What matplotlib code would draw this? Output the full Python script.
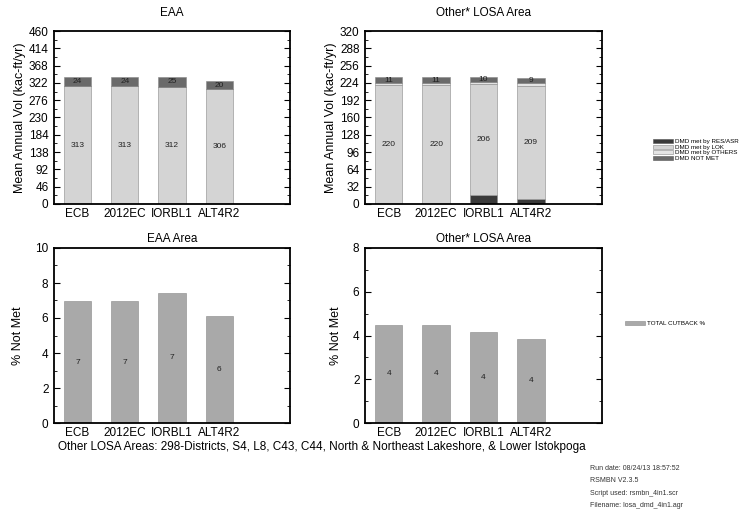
import numpy as np
import matplotlib.pyplot as plt
from matplotlib.patches import Patch
from matplotlib.ticker import MultipleLocator, AutoMinorLocator

plt.rcParams['font.family'] = ['Liberation Sans', 'DejaVu Sans']

alts = ['ECB', '2012EC', 'IORBL1', 'ALT4R2']

# demand volumes (kac-ft/yr) by source
eaa_res = [0, 0, 0, 0]
eaa_lok = [313, 313, 312, 306]
eaa_oth = [0, 0, 0, 0]
eaa_notmet = [24, 24, 25, 20]

losa_res = [0, 0, 16, 10]
losa_lok = [220, 220, 206, 209]
losa_oth = [4, 4, 4, 5]
losa_notmet = [10.6, 10.6, 9.8, 9.0]

# percent of demand not met
eaa_pct = [6.95, 6.95, 7.45, 6.1]
losa_pct = [4.5, 4.5, 4.15, 3.85]

c_res = '#3a3a3a'
c_lok = '#d4d4d4'
c_oth = '#e4e4e4'
c_notmet = '#6a6a6a'
c_cut = '#a9a9a9'

W, H = 739, 511
fig = plt.figure(figsize=(W / 100, H / 100), dpi=100)


def box(x0, y0, x1, y1):
    return [x0 / W, 1 - y1 / H, (x1 - x0) / W, (y1 - y0) / H]


def style(ax, ymax, step):
    ax.set_xlim(0.5, 5.5)
    ax.set_ylim(0, ymax)
    ax.yaxis.set_major_locator(MultipleLocator(step))
    ax.yaxis.set_minor_locator(AutoMinorLocator(2))
    ax.set_xticks(range(1, 5))
    ax.set_xticklabels(alts, fontsize=8.5)
    ax.tick_params(axis='x', length=0, pad=3)
    ax.tick_params(axis='y', which='both', direction='in', right=True,
                   labelsize=8.5, pad=4)
    ax.tick_params(axis='y', which='major', length=4)
    ax.tick_params(axis='y', which='minor', length=2)
    for s in ax.spines.values():
        s.set_linewidth(1.3)


def stacked(ax, res, lok, oth, notmet):
    x = np.arange(1, 5)
    bottom = np.zeros(4)
    for vals, col, lab in [(res, c_res, False), (lok, c_lok, True),
                           (oth, c_oth, False), (notmet, c_notmet, True)]:
        vals = np.array(vals, dtype=float)
        ax.bar(x, vals, 0.58, bottom=bottom, color=col, edgecolor='#888888',
               linewidth=0.4)
        if lab:
            for xi, b, v in zip(x, bottom, vals):
                ax.text(xi, b + v / 2, f'{v:.0f}', ha='center', va='center',
                        fontsize=6, color='#222222')
        bottom += vals


def pct_bars(ax, pct):
    x = np.arange(1, 5)
    ax.bar(x, pct, 0.58, color=c_cut, edgecolor='#888888', linewidth=0.4)
    for xi, v in zip(x, pct):
        ax.text(xi, v / 2, f'{v:.0f}', ha='center', va='center',
                fontsize=6, color='#222222')


ax1 = fig.add_axes(box(54, 31, 290, 204))
stacked(ax1, eaa_res, eaa_lok, eaa_oth, eaa_notmet)
style(ax1, 460, 46)
ax1.set_title('EAA', fontsize=8.5, pad=11)
ax1.set_ylabel('Mean Annual Vol (kac-ft/yr)', fontsize=9, labelpad=2)

ax2 = fig.add_axes(box(365, 31, 602, 204))
stacked(ax2, losa_res, losa_lok, losa_oth, losa_notmet)
style(ax2, 320, 32)
ax2.set_title('Other* LOSA Area', fontsize=8.5, pad=11)
ax2.set_ylabel('Mean Annual Vol (kac-ft/yr)', fontsize=9, labelpad=2)

ax3 = fig.add_axes(box(54, 248, 290, 423))
pct_bars(ax3, eaa_pct)
style(ax3, 10, 2)
ax3.set_title('EAA Area', fontsize=8.5, pad=4)
ax3.set_ylabel('% Not Met', fontsize=9, labelpad=8)

ax4 = fig.add_axes(box(365, 248, 602, 423))
pct_bars(ax4, losa_pct)
style(ax4, 8, 2)
ax4.set_title('Other* LOSA Area', fontsize=8.5, pad=4)
ax4.set_ylabel('% Not Met', fontsize=9, labelpad=8)

handles = [Patch(facecolor=c_res, edgecolor='#555555', lw=0.4),
           Patch(facecolor=c_lok, edgecolor='#888888', lw=0.4),
           Patch(facecolor=c_oth, edgecolor='#888888', lw=0.4),
           Patch(facecolor=c_notmet, edgecolor='#555555', lw=0.4)]
labels = ['DMD met by RES/ASR', 'DMD met by LOK', 'DMD met by OTHERS', 'DMD NOT MET']
fig.legend(handles, labels, loc='upper left', bbox_to_anchor=(650 / W, 1 - 136 / H),
           fontsize=4.5, frameon=False, handlelength=3.2, handleheight=0.6,
           labelspacing=0.05, handletextpad=0.3, borderpad=0)

fig.legend([Patch(facecolor=c_cut, edgecolor='#888888', lw=0.4)], ['TOTAL CUTBACK %'],
           loc='upper left', bbox_to_anchor=(622 / W, 1 - 318 / H),
           fontsize=4.5, frameon=False, handlelength=3.2, handleheight=0.6,
           handletextpad=0.3, borderpad=0)

fig.text(58 / W, 1 - 447 / H,
         'Other LOSA Areas: 298-Districts, S4, L8, C43, C44, North & Northeast '
         'Lakeshore, & Lower Istokpoga', fontsize=8.5, va='center')

info = ['Run date: 08/24/13 18:57:52', 'RSMBN V2.3.5',
        'Script used: rsmbn_4in1.scr', 'Filename: losa_dmd_4in1.agr']
for i, s in enumerate(info):
    fig.text(590 / W, 1 - (468 + i * 12.5) / H, s, fontsize=5, va='center',
             color='#333333')

fig.savefig('out.png', dpi=100)
